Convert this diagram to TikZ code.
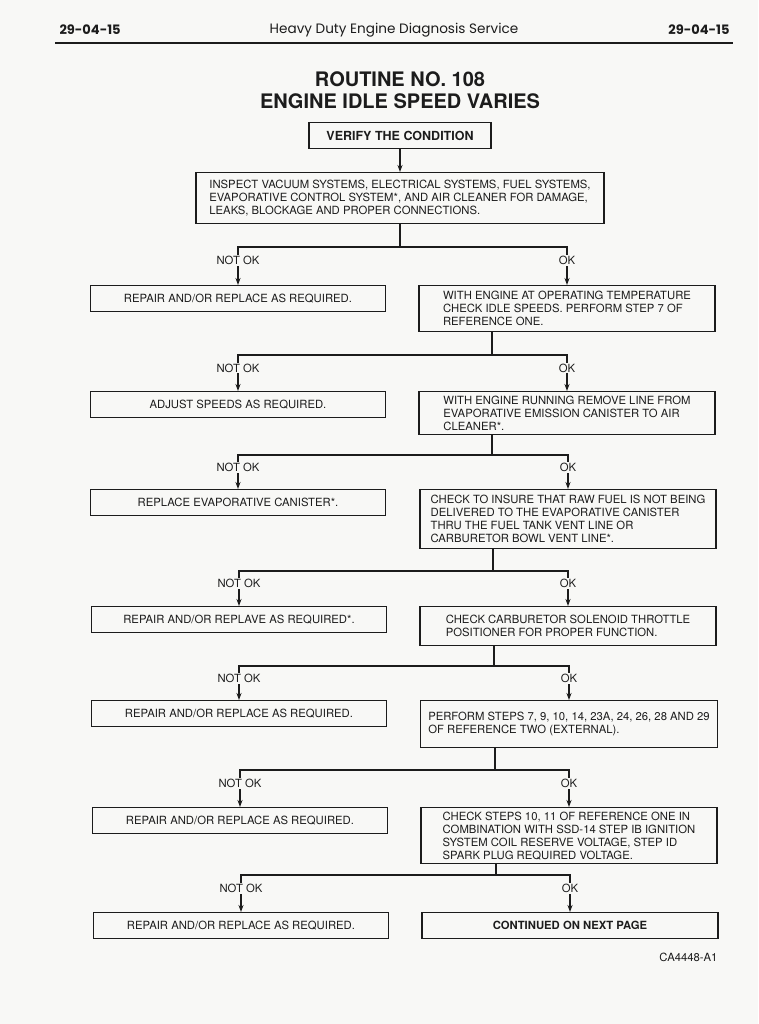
\documentclass[tikz,border=0pt]{standalone}
\usepackage{fontspec}
\setmainfont{TeX Gyre Heros}
\newfontfamily\headfont{Poppins}
\usetikzlibrary{arrows.meta,positioning,calc}
\definecolor{paper}{RGB}{248,248,246}
\definecolor{ink}{RGB}{28,28,28}

\begin{document}
\begin{tikzpicture}[x=1pt, y=-1pt,
    box/.style={draw=ink, line width=1.2pt, anchor=north, inner xsep=8pt, inner ysep=4pt,
        font=\fontsize{11.3}{13}\selectfont, text=ink},
    lbox/.style={box, minimum width=295pt, minimum height=26pt},
    rbox/.style={box, minimum width=296pt, align=left},
    arr/.style={-{Stealth[length=7pt,width=5pt]}, line width=1.2pt, draw=ink},
    lbl/.style={font=\fontsize{11.3}{13}\selectfont, fill=paper, inner sep=1pt, text=ink, pos=0.68}
]
    \fill[paper] (0,0) rectangle (758,1024);
    \useasboundingbox (0,0) rectangle (758,1024);

    % page header
    \node[anchor=west, font=\headfont\bfseries\fontsize{13}{15}\selectfont, text=ink] (pgl) at (56,30) {29-04-15};
    \node[font=\headfont\fontsize{13.6}{15}\selectfont, text=ink] (pgt) at (394,30) {Heavy Duty Engine Diagnosis Service};
    \node[anchor=east, font=\headfont\bfseries\fontsize{13}{15}\selectfont, text=ink] (pgr) at (733,30) {29-04-15};
    \draw[ink, line width=1.8pt] (55,43) -- (733,43);

    \node[font=\bfseries\fontsize{20}{22}\selectfont, align=center, text=ink] (title) at (400,90)
        {ROUTINE NO. 108\\ENGINE IDLE SPEED VARIES};

    \node[box, font=\bfseries\fontsize{12.5}{15}\selectfont, minimum width=182pt, minimum height=26pt] (verify) at (400,122) {VERIFY THE CONDITION};
    \node[box, align=left, minimum width=408pt, minimum height=51pt, inner xsep=12pt] (inspect) at (400,172)
        {INSPECT VACUUM SYSTEMS, ELECTRICAL SYSTEMS, FUEL SYSTEMS,\\EVAPORATIVE CONTROL SYSTEM*, AND AIR CLEANER FOR DAMAGE,\\LEAKS, BLOCKAGE AND PROPER CONNECTIONS.};

    \node[lbox] (l1) at (238,285) {REPAIR AND/OR REPLACE AS REQUIRED.};
    \node[rbox, minimum height=46pt] (r1) at (567,285) {WITH ENGINE AT OPERATING TEMPERATURE\\CHECK IDLE SPEEDS. PERFORM STEP 7 OF\\REFERENCE ONE.};
    \node[lbox] (l2) at (238,391) {ADJUST SPEEDS AS REQUIRED.};
    \node[rbox, minimum height=42pt] (r2) at (567,391) {WITH ENGINE RUNNING REMOVE LINE FROM\\EVAPORATIVE EMISSION CANISTER TO AIR\\CLEANER*.};
    \node[lbox] (l3) at (238,489) {REPLACE EVAPORATIVE CANISTER*.};
    \node[rbox, minimum height=59pt] (r3) at (568,489) {CHECK TO INSURE THAT RAW FUEL IS NOT BEING\\DELIVERED TO THE EVAPORATIVE CANISTER\\THRU THE FUEL TANK VENT LINE OR\\CARBURETOR BOWL VENT LINE*.};
    \node[lbox] (l4) at (239,606) {REPAIR AND/OR REPLAVE AS REQUIRED*.};
    \node[rbox, minimum height=39pt] (r4) at (568,606) {CHECK CARBURETOR SOLENOID THROTTLE\\POSITIONER FOR PROPER FUNCTION.};
    \node[lbox] (l5) at (239,700) {REPAIR AND/OR REPLACE AS REQUIRED.};
    \node[rbox, minimum height=47pt] (r5) at (569,700) {PERFORM STEPS 7, 9, 10, 14, 23A, 24, 26, 28 AND 29\\OF REFERENCE TWO (EXTERNAL).};
    \node[lbox] (l6) at (240,807) {REPAIR AND/OR REPLACE AS REQUIRED.};
    \node[rbox, minimum height=55pt] (r6) at (569,807) {CHECK STEPS 10, 11 OF REFERENCE ONE IN\\COMBINATION WITH SSD-14 STEP IB IGNITION\\SYSTEM COIL RESERVE VOLTAGE, STEP ID\\SPARK PLUG REQUIRED VOLTAGE.};
    \node[lbox] (l7) at (241,912) {REPAIR AND/OR REPLACE AS REQUIRED.};
    \node[box, font=\bfseries\fontsize{11.3}{13}\selectfont, minimum width=296pt, minimum height=26pt] (r7) at (570,912) {CONTINUED ON NEXT PAGE};

    \node[anchor=east, font=\fontsize{11.3}{13}\selectfont, text=ink] (code) at (721,957) {CA4448-A1};

    \coordinate (s1) at (400,247);
    \coordinate (s2) at (492,355);
    \coordinate (s3) at (492,455);
    \coordinate (s4) at (493,571);
    \coordinate (s5) at (494,666);
    \coordinate (s6) at (495,770);
    \coordinate (s7) at (496,875);

    \draw[arr] (verify) -- (inspect);
    \draw[line width=1.2pt, ink] (inspect.south) -- (s1);
    \draw[arr] (s1) -| (l1.north) node[lbl] {NOT OK};
    \draw[arr] (s1) -| (r1.north) node[lbl] {OK};

    \draw[line width=1.2pt, ink] (r1.south -| s2) -- (s2);
    \draw[arr] (s2) -| (l2.north) node[lbl] {NOT OK};
    \draw[arr] (s2) -| (r2.north) node[lbl] {OK};

    \draw[line width=1.2pt, ink] (r2.south -| s3) -- (s3);
    \draw[arr] (s3) -| (l3.north) node[lbl] {NOT OK};
    \draw[arr] (s3) -| (r3.north) node[lbl] {OK};

    \draw[line width=1.2pt, ink] (r3.south -| s4) -- (s4);
    \draw[arr] (s4) -| (l4.north) node[lbl] {NOT OK};
    \draw[arr] (s4) -| (r4.north) node[lbl] {OK};

    \draw[line width=1.2pt, ink] (r4.south -| s5) -- (s5);
    \draw[arr] (s5) -| (l5.north) node[lbl] {NOT OK};
    \draw[arr] (s5) -| (r5.north) node[lbl] {OK};

    \draw[line width=1.2pt, ink] (r5.south -| s6) -- (s6);
    \draw[arr] (s6) -| (l6.north) node[lbl] {NOT OK};
    \draw[arr] (s6) -| (r6.north) node[lbl] {OK};

    \draw[line width=1.2pt, ink] (r6.south -| s7) -- (s7);
    \draw[arr] (s7) -| (l7.north) node[lbl] {NOT OK};
    \draw[arr] (s7) -| (r7.north) node[lbl] {OK};
\end{tikzpicture}
\end{document}
